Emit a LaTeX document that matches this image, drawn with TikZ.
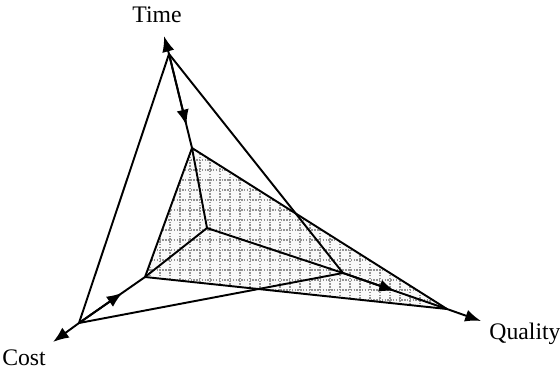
\documentclass[tikz,border=0pt]{standalone}
\usepackage{fontspec}
\setmainfont{Liberation Serif}
\usetikzlibrary{arrows.meta,calc}
\begin{document}
\begin{tikzpicture}[x=0.02cm,y=-0.02cm,
  edge/.style={line width=1.1pt,black},
  tip/.style={-{Latex[length=9pt,width=7pt]}},
  gridline/.style={gray!85,dash pattern=on 0.8pt off 0.8pt,line width=0.8pt},
  lab/.style={font=\fontsize{13.5}{15}\selectfont,inner sep=0pt}]
\useasboundingbox (0,0) rectangle (560,376);
% points
\coordinate (O) at (207,228);
\coordinate (T) at (169,54);
\coordinate (A) at (192,148);
\coordinate (C) at (79,323);
\coordinate (B) at (145,277);
\coordinate (P) at (343,273);
\coordinate (Q) at (447,309);
\coordinate (Tt) at (164,36);
\coordinate (Ct) at (53,342);
\coordinate (Qt) at (481,321);
% shaded inner triangle
\fill[gray!5] (A) -- (B) -- (Q) -- cycle;
\begin{scope}
\clip (A) -- (B) -- (Q) -- cycle;
\foreach \gx in {140,150,...,450} \draw[gridline] (\gx,140) -- (\gx,320);
\foreach \gy in {140,150,...,320} \draw[gridline] (140,\gy) -- (450,\gy);
\end{scope}
% outer triangle
\draw[edge,line join=round] (T) -- (C) -- (P) -- cycle;
% inner triangle
\draw[edge,line join=round] (A) -- (B) -- (Q) -- cycle;
% axes
\draw[edge] (O) -- (A) -- (T);
\draw[edge] (O) -- (B) -- (C);
\draw[edge] (O) -- (P) -- (Q);
\draw[edge,tip] (T) -- (Tt);
\draw[edge,tip] (C) -- (Ct);
\draw[edge,tip] (Q) -- (Qt);
% mid arrows
\draw[edge,tip] (T) -- ($(T)!0.76!(A)$);
\draw[edge,tip] (C) -- ($(C)!0.66!(B)$);
\draw[edge,tip] (P) -- ($(P)!0.5!(Q)$);
% labels
\node[lab] (lt) at (157,15) {Time};
\node[lab] (lc) at (24,358) {Cost};
\node[lab] (lq) at (525,334) {Quality};
\end{tikzpicture}
\end{document}
